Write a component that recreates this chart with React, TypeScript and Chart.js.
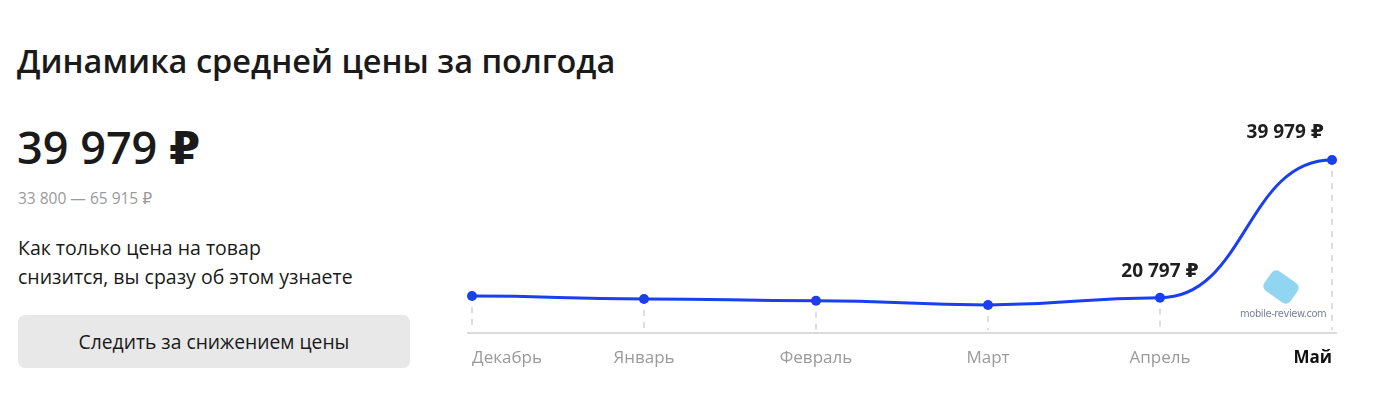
import React, { useEffect, useRef } from "react";
import { Chart, registerables } from "chart.js";

Chart.register(...registerables);

// ---- data ----
const MONTHS = ["Декабрь", "Январь", "Февраль", "Март", "Апрель", "Май"];
const AVG_PRICES = [21030, 20620, 20380, 19780, 20797, 39979];
const LABELED_INDEXES = [4, 5];
const PRICE_LABELS = ["21 030 ₽", "20 620 ₽", "20 380 ₽", "19 780 ₽", "20 797 ₽", "39 979 ₽"];
const Y_MIN = 15880;
const Y_MAX = 39979;

const TITLE = "Динамика средней цены за полгода";
const CURRENT_PRICE = "39 979 ₽";
const PRICE_RANGE = "33 800 — 65 915 ₽";
const NOTE_LINES = ["Как только цена на товар", "снизится, вы сразу об этом узнаете"];
const BUTTON_TEXT = "Следить за снижением цены";
const WATERMARK = "mobile-review.com";

const BLUE = "#1a3ff0";
const FONT = '"Open Sans", "DejaVu Sans", sans-serif';

// Smooth "bump" curve: horizontal tangents at every point
const bumpCurve = {
  id: "bumpCurve",
  beforeDatasetDraw(chart: any, args: any) {
    const meta = args.meta;
    const line = meta.dataset;
    if (!line) return;
    line.updateControlPoints(chart.chartArea, "x");
    const pts = meta.data;
    for (let i = 0; i < pts.length; i++) {
      const p = pts[i];
      const prev = pts[i - 1];
      const next = pts[i + 1];
      p.cp1x = prev ? p.x - (p.x - prev.x) / 2 : p.x;
      p.cp1y = p.y;
      p.cp2x = next ? p.x + (next.x - p.x) / 2 : p.x;
      p.cp2y = p.y;
    }
  },
};

const guides = {
  id: "guides",
  beforeDatasetsDraw(chart: any) {
    const { ctx, chartArea } = chart;
    const meta = chart.getDatasetMeta(0);
    ctx.save();
    // baseline
    ctx.strokeStyle = "#cfcfcf";
    ctx.lineWidth = 1.5;
    ctx.beginPath();
    ctx.moveTo(chartArea.left - 5, chartArea.bottom);
    ctx.lineTo(chartArea.right + 5, chartArea.bottom);
    ctx.stroke();
    // dashed drop lines
    ctx.strokeStyle = "#cccccc";
    ctx.lineWidth = 1.3;
    ctx.setLineDash([6, 6]);
    meta.data.forEach((p: any) => {
      ctx.beginPath();
      ctx.moveTo(p.x, p.y + 11);
      ctx.lineTo(p.x, chartArea.bottom - 3);
      ctx.stroke();
    });
    ctx.restore();
  },
  afterDatasetsDraw(chart: any) {
    const { ctx } = chart;
    const meta = chart.getDatasetMeta(0);
    const last = meta.data.length - 1;
    ctx.save();
    ctx.fillStyle = "#1f1f1f";
    ctx.font = `700 19px ${FONT}`;
    ctx.textBaseline = "alphabetic";
    LABELED_INDEXES.forEach((i) => {
      const p = meta.data[i];
      if (i === last) {
        ctx.textAlign = "right";
        ctx.fillText(PRICE_LABELS[i], p.x - 8, p.y - 22);
      } else {
        ctx.textAlign = "center";
        ctx.fillText(PRICE_LABELS[i], p.x, p.y - 21);
      }
    });
    ctx.restore();
  },
};

function PriceChart() {
  const ref = useRef<HTMLCanvasElement | null>(null);
  useEffect(() => {
    if (!ref.current) return;
    const last = MONTHS.length - 1;
    const chart = new Chart(ref.current, {
      type: "line",
      data: {
        labels: MONTHS,
        datasets: [
          {
            data: AVG_PRICES,
            borderColor: BLUE,
            borderWidth: 3,
            backgroundColor: BLUE,
            pointRadius: 5,
            pointBorderWidth: 0,
            pointBackgroundColor: BLUE,
            tension: 0.4,
            clip: false as any,
            fill: false,
          },
        ],
      },
      options: {
        animation: false,
        responsive: false,
        events: [],
        layout: { padding: { left: 32, right: 68, top: 60, bottom: 0 } },
        plugins: { legend: { display: false }, tooltip: { enabled: false } },
        scales: {
          x: {
            grid: { display: false, drawTicks: false },
            border: { display: false },
            afterFit: (scale: any) => {
              scale.height = 67;
            },
            ticks: {
              align: "inner",
              padding: 15,
              maxRotation: 0,
              autoSkip: false,
              color: (c: any) => (c.index === last ? "#111111" : "#9a9a9a"),
              font: (c: any) =>
                c.index === last
                  ? { family: FONT, size: 17, weight: "bold" }
                  : { family: FONT, size: 17, weight: "normal" },
            },
          },
          y: { display: false, min: Y_MIN, max: Y_MAX },
        },
      },
      plugins: [bumpCurve, guides],
    } as any);
    return () => chart.destroy();
  }, []);
  return (
    <canvas
      ref={ref}
      width={960}
      height={300}
      style={{ position: "absolute", left: 440, top: 100, width: 960, height: 300 }}
    />
  );
}

export default function App() {
  const abs = (left: number, top: number, extra: React.CSSProperties = {}): React.CSSProperties => ({
    position: "absolute",
    left,
    top,
    whiteSpace: "nowrap",
    fontFamily: FONT,
    lineHeight: 1,
    margin: 0,
    ...extra,
  });
  return (
    <div
      style={{
        position: "absolute",
        left: 0,
        top: 0,
        width: 1400,
        height: 417,
        overflow: "hidden",
        background: "#ffffff",
      }}
    >
      <div style={abs(17, 45, { fontSize: 32.5, fontWeight: 600, color: "#1a1a1a" })}>{TITLE}</div>
      <div style={abs(17, 124, { fontSize: 45, fontWeight: 600, color: "#1a1a1a" })}>{CURRENT_PRICE}</div>
      <div style={abs(18, 191, { fontSize: 15.5, color: "#9a9a9a" })}>{PRICE_RANGE}</div>
      <div style={abs(18, 233, { fontSize: 19.5, lineHeight: "29px", color: "#1a1a1a" })}>
        {NOTE_LINES.map((l, i) => (
          <div key={i}>{l}</div>
        ))}
      </div>
      <div
        style={{
          position: "absolute",
          left: 18,
          top: 315,
          width: 392,
          height: 53,
          borderRadius: 7,
          background: "#e8e8e8",
          display: "flex",
          alignItems: "center",
          justifyContent: "center",
          fontFamily: FONT,
          fontSize: 19.3,
          color: "#1a1a1a",
        }}
      >
        {BUTTON_TEXT}
      </div>
      <PriceChart />
      <div
        style={{
          position: "absolute",
          left: 1265,
          top: 275,
          width: 32,
          height: 24,
          borderRadius: 6,
          background: "#86d0f0",
          transform: "rotate(35deg)",
          opacity: 0.9,
        }}
      />
      <div style={abs(1240, 308, { fontSize: 11, color: "#7a7f9a", letterSpacing: -0.4, fontFamily: '"DejaVu Sans Condensed", "DejaVu Sans", sans-serif' })}>
        {WATERMARK}
      </div>
    </div>
  );
}
